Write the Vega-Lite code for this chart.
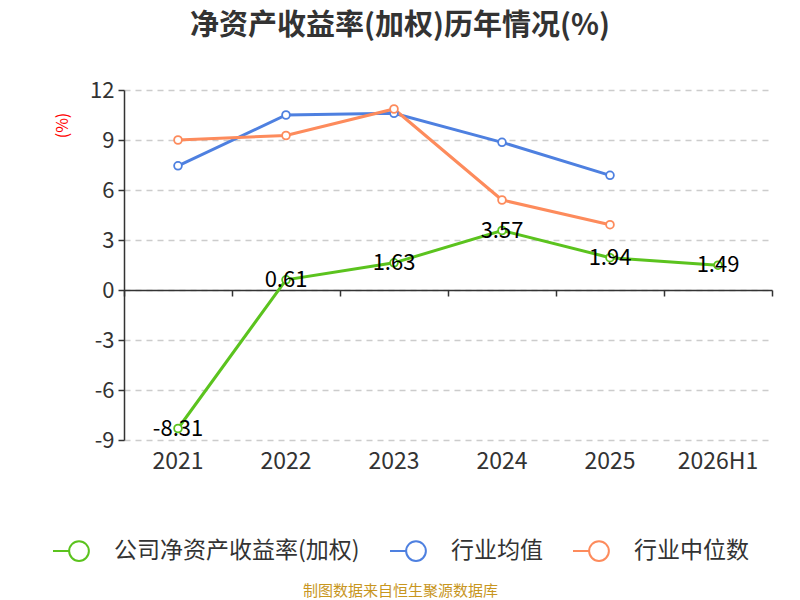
{
  "$schema": "https://vega.github.io/schema/vega-lite/v6.json",
  "autosize": {"type": "none"},
  "padding": {"left": 124, "top": 90, "right": 28, "bottom": 160},
  "width": 648,
  "height": 350,
  "background": "white",
  "title": {
    "text": "净资产收益率(加权)历年情况(%)",
    "font": "Noto Sans CJK SC",
    "fontSize": 29,
    "fontWeight": "bold",
    "color": "#333333",
    "anchor": "middle",
    "dx": -48,
    "offset": 38
  },
  "data": {
    "values": [
      {"year": "2021", "series": "公司净资产收益率(加权)", "value": -8.31},
      {"year": "2022", "series": "公司净资产收益率(加权)", "value": 0.61},
      {"year": "2023", "series": "公司净资产收益率(加权)", "value": 1.63},
      {"year": "2024", "series": "公司净资产收益率(加权)", "value": 3.57},
      {"year": "2025", "series": "公司净资产收益率(加权)", "value": 1.94},
      {"year": "2026H1", "series": "公司净资产收益率(加权)", "value": 1.49},
      {"year": "2021", "series": "行业均值", "value": 7.45},
      {"year": "2022", "series": "行业均值", "value": 10.5},
      {"year": "2023", "series": "行业均值", "value": 10.6},
      {"year": "2024", "series": "行业均值", "value": 8.86},
      {"year": "2025", "series": "行业均值", "value": 6.88},
      {"year": "2021", "series": "行业中位数", "value": 9.0},
      {"year": "2022", "series": "行业中位数", "value": 9.27},
      {"year": "2023", "series": "行业中位数", "value": 10.86},
      {"year": "2024", "series": "行业中位数", "value": 5.4},
      {"year": "2025", "series": "行业中位数", "value": 3.92}
    ]
  },
  "encoding": {
    "x": {
      "field": "year",
      "type": "nominal",
      "sort": null,
      "bandPosition": 0.5,
      "scale": {"type": "band", "paddingInner": 0, "paddingOuter": 0}
    },
    "y": {
      "field": "value",
      "type": "quantitative",
      "scale": {"domain": [-9, 12], "nice": false, "zero": false},
      "axis": {
        "values": [-9, -6, -3, 0, 3, 6, 9, 12],
        "labelExpr": "replace(datum.label, '\u2212', '-')",
        "title": "(%)",
        "titleColor": "#ff0000",
        "titleFont": "Noto Sans CJK SC",
        "titleFontSize": 16,
        "titleFontWeight": "normal",
        "titleAngle": 270,
        "titleX": -62,
        "titleY": 35,
        "titleAlign": "center",
        "titleBaseline": "middle",
        "labelFont": "Noto Sans CJK SC",
        "labelFontSize": 22,
        "labelColor": "#333333",
        "labelPadding": 4,
        "domainColor": "#333333",
        "domainWidth": 1.5,
        "tickColor": "#333333",
        "tickSize": 6,
        "tickWidth": 1.5,
        "grid": true,
        "gridColor": "#cccccc",
        "gridDash": [6, 5],
        "gridWidth": 1.5
      }
    }
  },
  "layer": [
    {
      "mark": {
        "type": "line",
        "strokeWidth": 3,
        "point": {"filled": false, "fill": "white", "size": 60, "strokeWidth": 1.8}
      },
      "encoding": {
        "x": {
          "field": "year",
          "type": "nominal",
          "sort": null,
          "bandPosition": 0.5,
          "axis": {
            "orient": "bottom",
            "domain": false,
            "ticks": false,
            "grid": false,
            "labelAngle": 0,
            "labelFont": "Noto Sans CJK SC",
            "labelFontSize": 23,
            "labelColor": "#333333",
            "labelPadding": 10,
            "title": "制图数据来自恒生聚源数据库",
            "titleFont": "Noto Sans CJK SC",
            "titleFontSize": 15,
            "titleFontWeight": "normal",
            "titleColor": "#c8961e",
            "titleX": 276,
            "titleY": 150,
            "titleAlign": "center",
            "titleBaseline": "middle"
          }
        },
        "color": {
          "field": "series",
          "type": "nominal",
          "sort": ["公司净资产收益率(加权)", "行业均值", "行业中位数"],
          "scale": {
            "domain": ["公司净资产收益率(加权)", "行业均值", "行业中位数"],
            "range": ["#5bc31e", "#4e80e0", "#fd8b5c"]
          },
          "legend": {
            "title": null,
            "orient": "none",
            "direction": "horizontal",
            "legendX": -72,
            "legendY": 434,
            "symbolType": "M-1,0L-0.38,0M0.38,0A0.38,0.38,0,1,1,-0.38,0A0.38,0.38,0,1,1,0.38,0",
            "symbolSize": 2700,
            "symbolStrokeWidth": 2,
            "symbolFillColor": "white",
            "labelFont": "Noto Sans CJK SC",
            "labelFontSize": 23,
            "labelColor": "#333333",
            "labelLimit": 0,
            "labelOffset": 8,
            "columnPadding": 26
          }
        }
      }
    },
    {
      "transform": [
        {"filter": "datum.series == '公司净资产收益率(加权)'"},
        {"calculate": "replace(format(datum.value, '.2f'), '\u2212', '-')", "as": "label"}
      ],
      "mark": {
        "type": "text",
        "font": "Noto Sans CJK SC",
        "fontSize": 22,
        "color": "#000000",
        "align": "center",
        "baseline": "middle"
      },
      "encoding": {
        "x": {
          "field": "year",
          "type": "nominal",
          "sort": null,
          "bandPosition": 0.5,
          "axis": {
            "orient": "bottom",
            "offset": -150,
            "labels": false,
            "title": null,
            "grid": false,
            "domain": true,
            "domainColor": "#333333",
            "domainWidth": 1.5,
            "ticks": true,
            "tickBand": "extent",
            "tickColor": "#333333",
            "tickWidth": 1.5,
            "tickSize": 6
          }
        },
        "text": {"field": "label", "type": "nominal"}
      }
    }
  ],
  "resolve": {"axis": {"x": "independent"}},
  "config": {
    "view": {"stroke": null},
    "font": "Noto Sans CJK SC"
  }
}
